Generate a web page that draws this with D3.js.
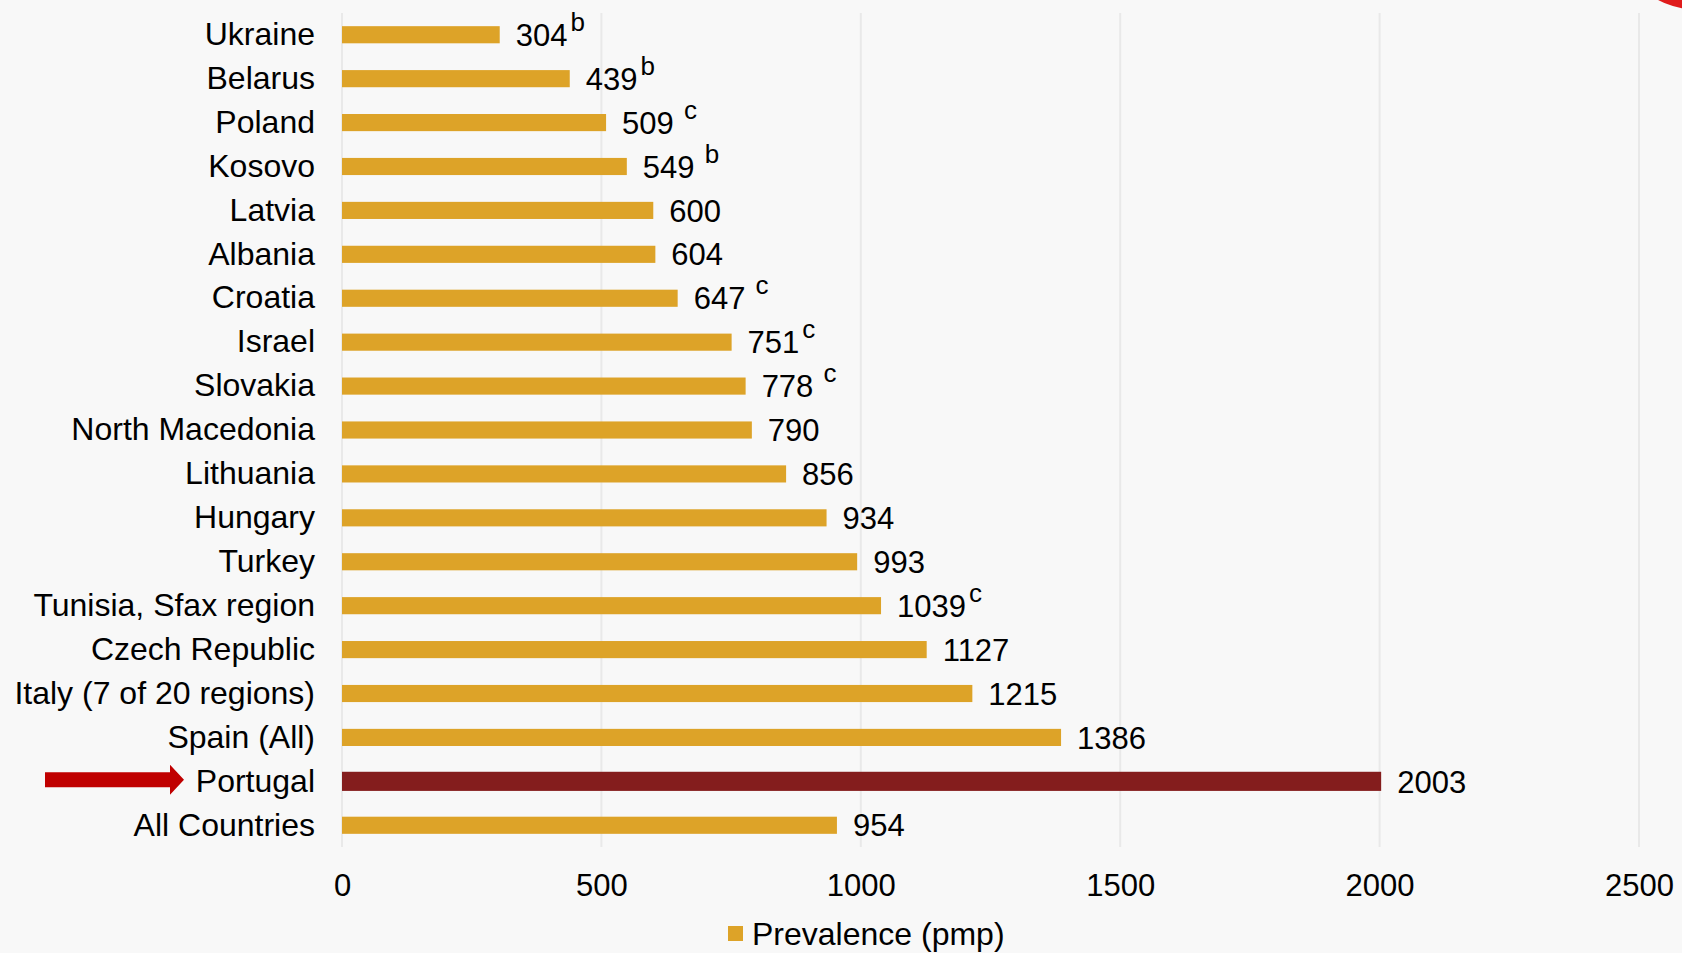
<!DOCTYPE html>
<html>
<head>
<meta charset="utf-8">
<script src="https://cdn.jsdelivr.net/npm/d3@7/dist/d3.min.js"></script>
<style>
  html, body { margin: 0; padding: 0; background: #f8f8f8; }
  svg { display: block; }
  text { font-family: "Liberation Sans", Arial, sans-serif; fill: #000; }
</style>
</head>
<body>
<script>
const categories = ["Ukraine","Belarus","Poland","Kosovo","Latvia","Albania","Croatia","Israel","Slovakia","North Macedonia","Lithuania","Hungary","Turkey","Tunisia, Sfax region","Czech Republic","Italy (7 of 20 regions)","Spain (All)","Portugal","All Countries"];
const prevalence = [304,439,509,549,600,604,647,751,778,790,856,934,993,1039,1127,1215,1386,2003,954];
const notes = ["b","b"," c"," b","",""," c","c"," c","","","","","c","","","","",""];
const highlighted = "Portugal";
const xTicks = [0,500,1000,1500,2000,2500];
const seriesName = "Prevalence (pmp)";

const W = 1682, H = 953;
const FONT = "'Liberation Sans', Arial, sans-serif";
const svg = d3.select("body").append("svg").attr("width", W).attr("height", H);
svg.append("rect").attr("width", W).attr("height", H).attr("fill", "#f8f8f8");

// decorative red corner shape
svg.append("circle").attr("cx", 1700).attr("cy", -83).attr("r", 93).attr("fill", "#e01b1b");

const pLeft = 342, pRight = 1639, pTop = 13, pBottom = 847;
const x = d3.scaleLinear().domain([0, 2500]).range([pLeft, pRight]);
const y = d3.scaleBand().domain(categories).range([pTop, pBottom]).paddingInner(0.61).paddingOuter(0.3);

// gridlines
svg.append("g").selectAll("line").data(xTicks).join("line")
  .attr("x1", d => x(d)).attr("x2", d => x(d))
  .attr("y1", pTop).attr("y2", pBottom)
  .attr("stroke", "#e9e9e9").attr("stroke-width", 2);

// x axis labels
const xAxis = d3.axisBottom(x).tickValues(xTicks).tickSize(0).tickPadding(0).tickFormat(d3.format("d"));
const gx = svg.append("g").attr("transform", `translate(0, ${pBottom + 27})`).call(xAxis);
gx.select(".domain").remove();
gx.selectAll("text").style("font-size", "31px").style("font-family", FONT).attr("dy", "0.71em").attr("fill", "#000");

// category labels
const yAxis = d3.axisLeft(y).tickSize(0).tickPadding(0);
const gy = svg.append("g").attr("transform", `translate(${pLeft - 27}, 0)`).call(yAxis);
gy.select(".domain").remove();
gy.selectAll("text").style("font-size", "32px").style("font-family", FONT).attr("fill", "#000");

// bars
const data = categories.map((c, i) => ({c, v: prevalence[i], n: notes[i]}));
svg.append("g").selectAll("rect").data(data).join("rect")
  .attr("x", x(0))
  .attr("y", d => y(d.c) - (d.c === highlighted ? 1 : 0))
  .attr("width", d => x(d.v) - x(0))
  .attr("height", d => y.bandwidth() + (d.c === highlighted ? 2 : 0))
  .attr("fill", d => d.c === highlighted ? "#841d1d" : "#dda328");

// value labels
const lbl = svg.append("g").selectAll("text").data(data).join("text")
  .attr("x", d => x(d.v) + 16)
  .attr("y", d => y(d.c) + y.bandwidth() / 2)
  .attr("dy", "0.36em")
  .style("font-size", "31px")
  .style("white-space", "pre");
lbl.append("tspan").text(d => d.v);
lbl.filter(d => d.n).append("tspan")
  .attr("dx", 3)
  .attr("dy", -15)
  .style("font-size", "26px")
  .text(d => d.n);

// arrow pointing to highlighted category
const yc = y(highlighted) + y.bandwidth() / 2 - 1.5;
const ax0 = 45, ax1 = 184, headW = 14, shaftH = 15, headH = 30;
svg.append("path")
  .attr("d", `M${ax0},${yc - shaftH/2} L${ax1 - headW},${yc - shaftH/2} L${ax1 - headW},${yc - headH/2} L${ax1},${yc} L${ax1 - headW},${yc + headH/2} L${ax1 - headW},${yc + shaftH/2} L${ax0},${yc + shaftH/2} Z`)
  .attr("fill", "#c00000");

// legend
const lg = svg.append("g").attr("transform", "translate(728, 926)");
lg.append("rect").attr("width", 15).attr("height", 15).attr("fill", "#dda328");
lg.append("text").attr("x", 24).attr("y", 7.5).attr("dy", "0.35em").style("font-size", "32px").text(seriesName);
</script>
</body>
</html>
